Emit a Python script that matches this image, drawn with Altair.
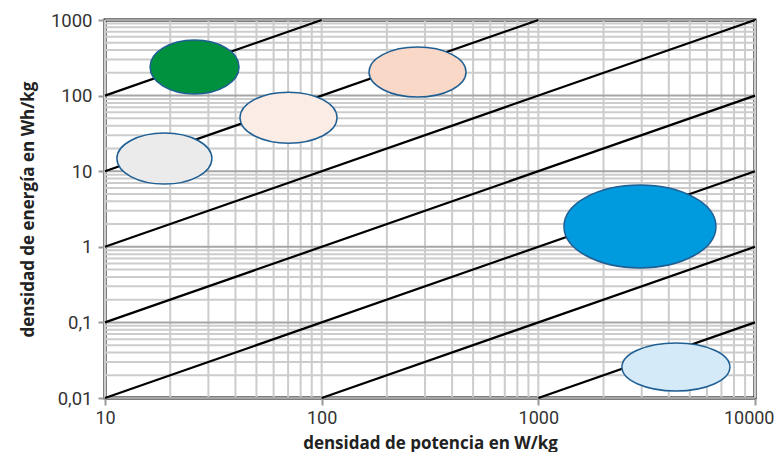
import altair as alt
import pandas as pd

# ---- data ----
x_decades = [10, 100, 1000, 10000]
y_decades = [0.01, 0.1, 1, 10, 100, 1000]
minor_multipliers = [2, 3, 4, 5, 6, 7, 8, 9]
time_constants_h = [10, 1, 0.1, 0.01, 0.001, 0.0001, 0.00001]

ellipse_ids = ["A", "B", "C", "D", "E", "F"]
power_centers = [25.9, 18.8, 70.3, 277, 2945, 4315]   # W/kg
energy_centers = [239, 14.7, 51, 205, 1.86, 0.0257]   # Wh/kg

x_label = "densidad de potencia en W/kg"
y_label = "densidad de energía en Wh/kg"

# ---- styles ----
ellipse_px = {  # width, height in pixels
    "A": (89, 54), "B": (95, 51), "C": (97, 51),
    "D": (97, 50), "E": (152, 83), "F": (108, 48),
}
ellipse_fill = {
    "A": "#00913f", "B": "#ebebeb", "C": "#fbece6",
    "D": "#fad8c8", "E": "#009ade", "F": "#d5eaf8",
}
FONT = "Roboto"
TFONT = "Open Sans"
W, H = 650, 378

xmin, xmax = x_decades[0], x_decades[-1]
ymin, ymax = y_decades[0], y_decades[-1]

xs = alt.Scale(type="log", domain=[xmin, xmax], nice=False)
ys = alt.Scale(type="log", domain=[ymin, ymax], nice=False)

# grid values built from decades and multipliers
vgrid = [k * d for d in x_decades[:-1] for k in [1] + minor_multipliers] + [xmax]
hminor = [k * d for d in y_decades[:-1] for k in minor_multipliers]

vgrid_df = pd.DataFrame({"x": vgrid})
hminor_df = pd.DataFrame({"y": hminor})
hmajor_df = pd.DataFrame({"y": y_decades})

# constant-time lines: energy = power * t, clipped to the domain
rows = []
for t in time_constants_h:
    x0 = max(xmin, ymin / t)
    x1 = min(xmax, ymax / t)
    rows.append({"t": t, "x": x0, "y": x0 * t, "x2": x1, "y2": x1 * t})
lines_df = pd.DataFrame(rows)

ell_df = pd.DataFrame({"id": ellipse_ids, "x": power_centers, "y": energy_centers})

last_test = f"datum.value === {xmax}"
base_x_axis = alt.Axis(
    values=x_decades, format="d", grid=False, domain=False, labelFlush=False,
    labelAlign={"condition": {"test": last_test, "value": "right"}, "value": "center"},
    labelOffset={"condition": {"test": last_test, "value": 19}, "value": 0},
    tickColor="#999999", tickWidth=2, tickSize=7,
    labelFont=FONT, labelFontSize=18, labelColor="#333333", labelPadding=4,
    title=x_label, titleFont=TFONT, titleFontSize=17, titleFontWeight="bold",
    titleColor="#222222", titlePadding=8,
)
base_y_axis = alt.Axis(
    values=y_decades, labelExpr="replace(toString(datum.value), '.', ',')",
    grid=False, domain=False, labelFlush=False,
    tickColor="#999999", tickWidth=2, tickSize=7,
    labelFont=FONT, labelFontSize=18.5, labelColor="#333333", labelPadding=6,
    title=y_label, titleFont=TFONT, titleFontSize=17, titleFontWeight="bold",
    titleColor="#222222", titlePadding=13,
)

vgrid_layer = alt.Chart(vgrid_df).mark_rule(color="#cccccc", strokeWidth=2).encode(
    x=alt.X("x:Q", scale=xs, axis=base_x_axis)
)
hminor_layer = alt.Chart(hminor_df).mark_rule(color="#cccccc", strokeWidth=2).encode(
    y=alt.Y("y:Q", scale=ys, axis=base_y_axis)
)
hmajor_layer = alt.Chart(hmajor_df).mark_rule(color="#a6a6a6", strokeWidth=2).encode(
    y=alt.Y("y:Q", scale=ys)
)
lines_layer = alt.Chart(lines_df).mark_rule(color="black", strokeWidth=2.2).encode(
    x=alt.X("x:Q", scale=xs), y=alt.Y("y:Q", scale=ys),
    x2="x2:Q", y2="y2:Q",
)

ell_layers = []
for eid in ellipse_ids:
    w, h = ellipse_px[eid]
    r = h / w
    path = f"M -1 0 A 1 {r:.4f} 0 1 0 1 0 A 1 {r:.4f} 0 1 0 -1 0 Z"
    ell_layers.append(
        alt.Chart(ell_df[ell_df["id"] == eid]).mark_point(
            shape=path, size=w * w, filled=True, fill=ellipse_fill[eid],
            fillOpacity=1, stroke="#1f5f94", strokeWidth=1.5, opacity=1,
        ).encode(x=alt.X("x:Q", scale=xs), y=alt.Y("y:Q", scale=ys))
    )

chart = alt.layer(
    vgrid_layer, hminor_layer, hmajor_layer, lines_layer, *ell_layers
).properties(
    width=W, height=H,
    autosize=alt.AutoSizeParams(type="none"),
    padding={"left": 97, "top": 12, "right": 19, "bottom": 54},
    background="white",
).configure_view(stroke="black", strokeWidth=3)

chart.save("out.html", embed_options={"renderer": "svg", "actions": False})
